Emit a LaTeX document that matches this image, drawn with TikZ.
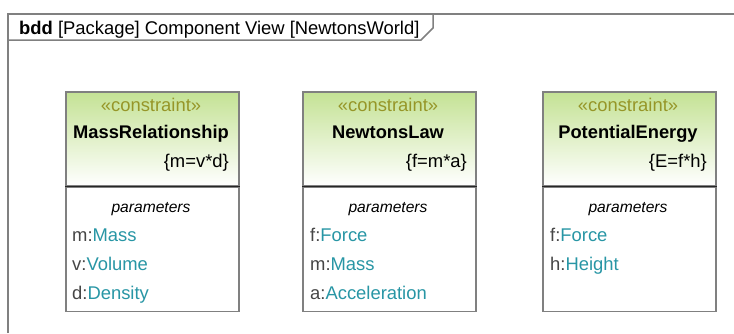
\documentclass[tikz,border=0pt]{standalone}
\usepackage{fontspec}
\setmainfont{Liberation Sans}
\usetikzlibrary{positioning}

\definecolor{stereoolive}{RGB}{150,150,40}
\definecolor{typeteal}{RGB}{40,150,165}
\definecolor{headgreen}{RGB}{196,226,148}
\definecolor{framegray}{RGB}{128,128,128}
\definecolor{prefixgray}{RGB}{70,70,70}

\begin{document}
\begin{tikzpicture}[x=1pt, y=-1pt,
    every node/.style={font=\fontsize{18.4}{21}\selectfont, inner sep=0pt},
    headbox/.style={draw=framegray, line width=1.5pt, rectangle, minimum width=173pt, minimum height=94pt, top color=headgreen, bottom color=white, anchor=north west},
    bodybox/.style={draw=framegray, line width=1.5pt, rectangle, minimum width=173pt, minimum height=124pt, fill=white, anchor=north west},
    divider/.style={draw=black!85, line width=1.5pt},
    stereo/.style={text=stereoolive, anchor=base},
    blockname/.style={font=\fontsize{18.3}{21}\selectfont\bfseries, anchor=base},
    expr/.style={anchor=base east},
    partitle/.style={font=\fontsize{15.6}{18}\selectfont\itshape, anchor=base},
    param/.style={anchor=base west, text=prefixgray},
    frameline/.style={draw=framegray, line width=1.5pt}
]
    \useasboundingbox (0,0) rectangle (734,333);

    % Diagram frame and title tab
    \draw[frameline] (8,333) -- (8,14) -- (734,14);
    \node (frameTitle) [anchor=base west, font=\fontsize{18.4}{21}\selectfont] at (19,34) {\textbf{bdd} [Package] Component View [NewtonsWorld]};
    \draw[frameline] (8,40) -- (421,40) -- (433,28) -- (433,14);

    % MassRelationship block
    \node (massHead) [headbox] at (65,91) {};
    \node (massBody) [bodybox] at (massHead.south west) {};
    \draw[divider] (massHead.south west) -- (massHead.south east);
    \node (massStereo) [stereo] at (151,111) {«constraint»};
    \node (massName) [blockname] at (151,138) {MassRelationship};
    \node (massExpr) [expr] at (229,167) {\{m=v*d\}};
    \node (massPars) [partitle] at (151,212) {parameters};
    \node (massM) [param] at (72,241) {m:\textcolor{typeteal}{Mass}};
    \node (massV) [param] at (72,270) {v:\textcolor{typeteal}{Volume}};
    \node (massD) [param] at (72,299) {d:\textcolor{typeteal}{Density}};

    % NewtonsLaw block
    \node (newtonHead) [headbox] at (302,91) {};
    \node (newtonBody) [bodybox] at (newtonHead.south west) {};
    \draw[divider] (newtonHead.south west) -- (newtonHead.south east);
    \node (newtonStereo) [stereo] at (388,111) {«constraint»};
    \node (newtonName) [blockname] at (388,138) {NewtonsLaw};
    \node (newtonExpr) [expr] at (467,167) {\{f=m*a\}};
    \node (newtonPars) [partitle] at (388,212) {parameters};
    \node (newtonF) [param] at (310,241) {f:\textcolor{typeteal}{Force}};
    \node (newtonM) [param] at (310,270) {m:\textcolor{typeteal}{Mass}};
    \node (newtonA) [param] at (310,299) {a:\textcolor{typeteal}{Acceleration}};

    % PotentialEnergy block
    \node (energyHead) [headbox] at (542,91) {};
    \node (energyBody) [bodybox] at (energyHead.south west) {};
    \draw[divider] (energyHead.south west) -- (energyHead.south east);
    \node (energyStereo) [stereo] at (628,111) {«constraint»};
    \node (energyName) [blockname] at (628,138) {PotentialEnergy};
    \node (energyExpr) [expr] at (707,167) {\{E=f*h\}};
    \node (energyPars) [partitle] at (628,212) {parameters};
    \node (energyF) [param] at (550,241) {f:\textcolor{typeteal}{Force}};
    \node (energyH) [param] at (550,270) {h:\textcolor{typeteal}{Height}};

\end{tikzpicture}
\end{document}
